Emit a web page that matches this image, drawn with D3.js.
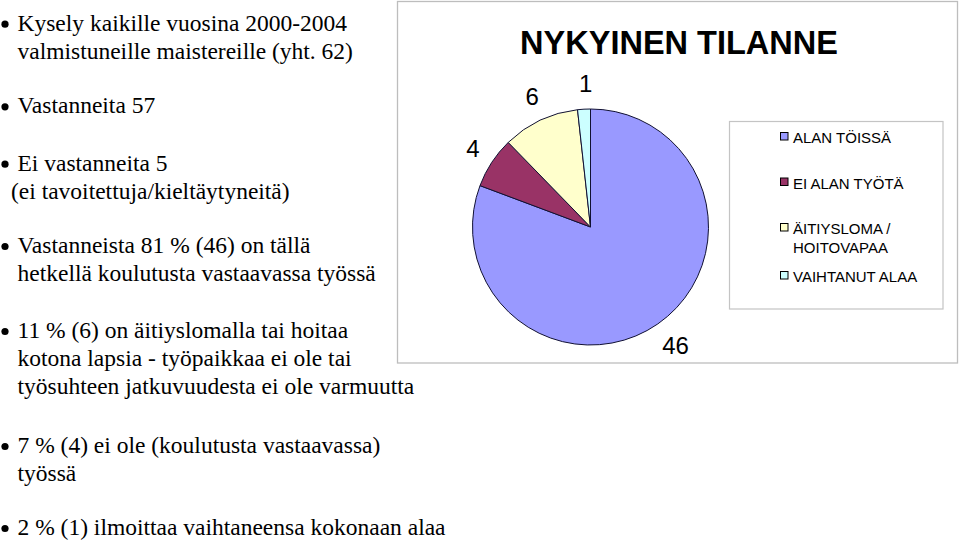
<!DOCTYPE html>
<html>
<head>
<meta charset="utf-8">
<script src="https://cdn.jsdelivr.net/npm/d3@7"></script>
<style>
  html, body { margin: 0; padding: 0; background: #fff; }
  svg { display: block; }
</style>
</head>
<body>
<svg id="chart" width="960" height="540"></svg>
<script>
// ---- data ----
const categories = ["ALAN TÖISSÄ", "EI ALAN TYÖTÄ", "ÄITIYSLOMA / HOITOVAPAA", "VAIHTANUT ALAA"];
const legendLines = [["ALAN TÖISSÄ"], ["EI ALAN TYÖTÄ"], ["ÄITIYSLOMA /", "HOITOVAPAA"], ["VAIHTANUT ALAA"]];
const values = [46, 4, 6, 1];
const chartTitle = "NYKYINEN TILANNE";
const bullets = [
  ["Kysely kaikille vuosina 2000-2004", "valmistuneille maistereille (yht. 62)"],
  ["Vastanneita 57"],
  ["Ei vastanneita 5", "(ei tavoitettuja/kieltäytyneitä)"],
  ["Vastanneista 81 % (46) on tällä", "hetkellä koulutusta vastaavassa työssä"],
  ["11 % (6) on äitiyslomalla tai hoitaa", "kotona lapsia - työpaikkaa ei ole tai", "työsuhteen jatkuvuudesta ei ole varmuutta"],
  ["7 % (4) ei ole (koulutusta vastaavassa)", "työssä"],
  ["2 % (1) ilmoittaa vaihtaneensa kokonaan alaa"]
];

// ---- styles ----
const colors = ["#9999FF", "#993366", "#FFFFCC", "#CCFFFF"];
const svg = d3.select("#chart");

// ---- left bullet text ----
const bulletBaselines = [30.7, 113.3, 170.7, 253, 338, 453, 535];
const lineH = 28;
const textG = svg.append("g").style("font-family", "\"Liberation Serif\", \"Times New Roman\", serif")
  .attr("font-size", 23.5).attr("fill", "#000");
bullets.forEach((lines, i) => {
  const y0 = bulletBaselines[i];
  textG.append("circle").attr("cx", 5).attr("cy", y0 - 6.5).attr("r", 3.6).attr("fill", "#000");
  lines.forEach((ln, j) => {
    const indent = (ln.startsWith("(ei ")) ? 11 : 17.5;
    textG.append("text").attr("x", indent).attr("y", y0 + j * lineH).text(ln);
  });
});

// ---- chart frame ----
svg.append("rect").attr("x", 397.5).attr("y", 1.5).attr("width", 560).attr("height", 361.5)
  .attr("fill", "#fff").attr("stroke", "#bdbdbd").attr("stroke-width", 1.3);

// title
svg.append("text").attr("x", 679).attr("y", 54).attr("text-anchor", "middle")
  .style("font-family", "\"Liberation Sans\", Arial, sans-serif").attr("font-weight", "bold")
  .attr("font-size", 32.5).attr("fill", "#000").text(chartTitle);

// ---- pie ----
const cx = 590.5, cy = 227, R = 118;
const pie = d3.pie().sort(null).value(d => d)(values);
const arc = d3.arc().innerRadius(0).outerRadius(R);
const labelArc = d3.arc().innerRadius(144).outerRadius(144);
const pg = svg.append("g").attr("transform", `translate(${cx},${cy})`);
pg.selectAll("path").data(pie).join("path")
  .attr("d", arc)
  .attr("fill", (d, i) => colors[i])
  .attr("stroke", "#111133").attr("stroke-width", 1);
pg.selectAll("text.lbl").data(pie).join("text").attr("class", "lbl")
  .attr("x", d => labelArc.centroid(d)[0] + 3)
  .attr("y", d => labelArc.centroid(d)[1] + 8.5)
  .attr("text-anchor", "middle")
  .style("font-family", "\"Liberation Sans\", Arial, sans-serif").attr("font-size", 24).attr("fill", "#000")
  .text(d => d.data);

// ---- legend ----
svg.append("rect").attr("x", 729.5).attr("y", 121.5).attr("width", 213.5).attr("height", 187.5)
  .attr("fill", "#fff").attr("stroke", "#c4c4c4").attr("stroke-width", 1.2);
const legendBaselines = [143, 188.5, 234, 282];
const lg = svg.append("g").style("font-family", "\"Liberation Sans\", Arial, sans-serif")
  .attr("font-size", 15).attr("fill", "#000");
categories.forEach((c, i) => {
  const y = legendBaselines[i];
  lg.append("rect").attr("x", 780.5).attr("y", y - 10.5).attr("width", 7.5).attr("height", 7.5)
    .attr("fill", colors[i]).attr("stroke", "#000").attr("stroke-width", 1);
  legendLines[i].forEach((ln, j) => {
    lg.append("text").attr("x", 793).attr("y", y + j * 19).text(ln);
  });
});
</script>
</body>
</html>
